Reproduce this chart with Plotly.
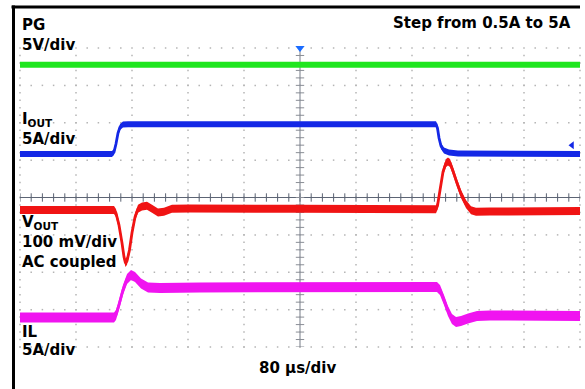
import numpy as np
import plotly.graph_objects as go

# ---------------- data (time in µs, trigger at 0) ----------------
# PG (V), 5 V/div
pg_t = [-400, 400]
pg_v = [5.0, 5.0]

# IOUT (A), 5 A/div
iout_t = [-400, -268.6, -265.7, -262.9, -260.0, -257.1, -252.9, -245.7,
          194.3, 196.4, 198.6, 201.4, 205.7, 212.9, 225.7, 400]
iout_v = [0.5, 0.5, 0.77, 1.84, 3.31, 4.11, 4.44, 4.5,
          4.5, 3.98, 2.64, 1.57, 0.97, 0.70, 0.57, 0.5]

# VOUT (mV, AC coupled), 100 mV/div
vout_t = [-400, -265.7, -262.9, -258.6, -254.3, -251.4, -249.3, -247.1, -243.6,
          -240.0, -235.7, -231.4, -225.7, -218.6, -211.4, -202.9, -194.3, -182.9,
          -157.1, 0, 194.3, 196.4, 200.0, 204.3, 208.6, 211.4, 214.3, 218.6,
          224.3, 230.0, 237.1, 244.3, 251.4, 271.4, 400]
vout_v = [0, 0, -8, -40, -88, -126, -142, -136, -107,
          -61, -19, 3, 9, 11, 3, -7, -5, 3,
          4, 3, 2, 11, 53, 102, 126, 130, 126, 104,
          72, 43, 16, -1, -5, -4, -3]

# IL (A), 5 A/div
il_t = [-400, -265.7, -262.9, -258.6, -252.9, -247.1, -241.4, -235.7, -227.1,
        -217.1, -200.0, -142.9, 195.7, 200.0, 205.7, 211.4, 217.1, 222.9,
        230.0, 240.0, 252.9, 271.4, 400]
il_v = [0.5, 0.5, 0.84, 2.17, 4.18, 5.65, 6.18, 5.92, 5.05,
        4.51, 4.45, 4.51, 4.58, 4.18, 2.84, 1.37, 0.30, -0.10,
        0.03, 0.37, 0.70, 0.77, 0.70]

# channel settings
channels = [
    # name, t, v, scale per div, position (div), color, band thickness(px)
    ("PG", pg_t, pg_v, 5.0, 2.55, "#1fe61f", 6),
    ("IOUT", iout_t, iout_v, 5.0, 1.063, "#1428e6", 6),
    ("VOUT", vout_t, vout_v, 100.0, -0.334, "#f01414", 8),
    ("IL", il_t, il_v, 5.0, -3.309, "#f014f0", 10),
]

W, H = 585, 389
ML, MR, MT, MB = 20, 5, 48, 42
PW, PH = W - ML - MR, H - MT - MB
DIV_PX = PH / 8.0


def px_x(x):
    return (x - ML) / PW


def px_y(y):
    return (H - MB - y) / PH


fig = go.Figure()

# ---------------- graticule ----------------
gx, gy = [], []
for t in np.arange(-400, 401, 80):
    for d in np.arange(-4, 4.01, 0.2):
        gx.append(t); gy.append(d)
for d in np.arange(-4, 4.01, 1.0):
    for t in np.arange(-400, 401, 16):
        gx.append(t); gy.append(d)
fig.add_trace(go.Scatter(x=gx, y=gy, mode="markers", cliponaxis=False,
                         marker=dict(symbol="square", size=1.5, color="#b4b4b4",
                                     line=dict(width=0)),
                         hoverinfo="skip", showlegend=False))
# center axes
fig.add_trace(go.Scatter(x=[-400, 400], y=[0, 0], mode="lines",
                         line=dict(color="#5c6474", width=1.2),
                         hoverinfo="skip", showlegend=False))
fig.add_trace(go.Scatter(x=[0, 0], y=[-4, 4], mode="lines",
                         line=dict(color="#a4a8b0", width=1.5),
                         hoverinfo="skip", showlegend=False))
tk = np.arange(-400, 401, 16)
fig.add_trace(go.Scatter(x=tk, y=np.zeros(len(tk)), mode="markers",
                         marker=dict(symbol="line-ns", size=6,
                                     line=dict(color="#5c6474", width=1)),
                         hoverinfo="skip", showlegend=False))
tk2 = np.arange(-4, 4.01, 0.2)
fig.add_trace(go.Scatter(x=np.zeros(len(tk2)), y=tk2, mode="markers",
                         marker=dict(symbol="line-ew", size=6,
                                     line=dict(color="#8a8e96", width=1)),
                         hoverinfo="skip", showlegend=False))

# ---------------- traces ----------------
for name, t, v, scale, pos, color, band in channels:
    y = np.array(v, dtype=float) / scale + pos
    hw = band / 2.0 / DIV_PX
    fig.add_trace(go.Scatter(x=t, y=y - hw, mode="lines",
                             line=dict(width=0, color=color, simplify=False),
                             hoverinfo="skip", showlegend=False))
    fig.add_trace(go.Scatter(x=t, y=y + hw, mode="lines",
                             line=dict(width=0, color=color, simplify=False),
                             fill="tonexty", fillcolor=color,
                             hoverinfo="skip", showlegend=False))
    fig.add_trace(go.Scatter(x=t, y=y, mode="lines",
                             line=dict(width=2.8, color=color, simplify=False),
                             name=name, showlegend=False))

# markers: trigger and channel pointer
fig.add_trace(go.Scatter(x=[0], y=[4], mode="markers", cliponaxis=False,
                         marker=dict(symbol="triangle-down", size=8, color="#1a6cff"),
                         hoverinfo="skip", showlegend=False))
fig.add_trace(go.Scatter(x=[388.6], y=[1.40], mode="markers", cliponaxis=False,
                         marker=dict(symbol="triangle-left", size=7, color="#1428e6"),
                         hoverinfo="skip", showlegend=False))

# ---------------- texts ----------------
FONT = dict(family="DejaVu Sans", size=15, color="#000000")
labels = [
    ("<b>PG</b>", 20, 25, "left"),
    ("<b>5V/div</b>", 20, 45, "left"),
    ("<b>I<sub>OUT</sub></b>", 20, 120, "left"),
    ("<b>5A/div</b>", 20, 139, "left"),
    ("<b>V<sub>OUT</sub></b>", 20, 222, "left"),
    ("<b>100 mV/div</b>", 20, 242, "left"),
    ("<b>AC coupled</b>", 20, 262, "left"),
    ("<b>IL</b>", 20, 332, "left"),
    ("<b>5A/div</b>", 20, 350, "left"),
    ("<b>Step from 0.5A to 5A</b>", 573, 23.5, "right"),
    ("<b>80 µs/div</b>", 297, 368, "center"),
]
for txt, x, y, anc in labels:
    fig.add_annotation(text=txt, xref="paper", yref="paper", x=px_x(x), y=px_y(y),
                       xanchor=anc, yanchor="middle", showarrow=False, font=FONT)

# frame lines
fig.add_shape(type="line", xref="paper", yref="paper", x0=px_x(11.5), x1=px_x(580),
              y0=px_y(7), y1=px_y(7), line=dict(color="black", width=3))
fig.add_shape(type="line", xref="paper", yref="paper", x0=px_x(13.5), x1=px_x(13.5),
              y0=px_y(5.5), y1=px_y(392), line=dict(color="black", width=3))

fig.update_layout(
    width=W, height=H,
    margin=dict(l=ML, r=MR, t=MT, b=MB),
    paper_bgcolor="white", plot_bgcolor="white",
    xaxis=dict(range=[-400, 400], visible=False, showgrid=False, zeroline=False),
    yaxis=dict(range=[-4, 4], visible=False, showgrid=False, zeroline=False),
    showlegend=False,
)

fig.write_html("out.html", config={"displayModeBar": False},
               post_script="document.body.style.margin='0';document.body.style.overflow='hidden';")
